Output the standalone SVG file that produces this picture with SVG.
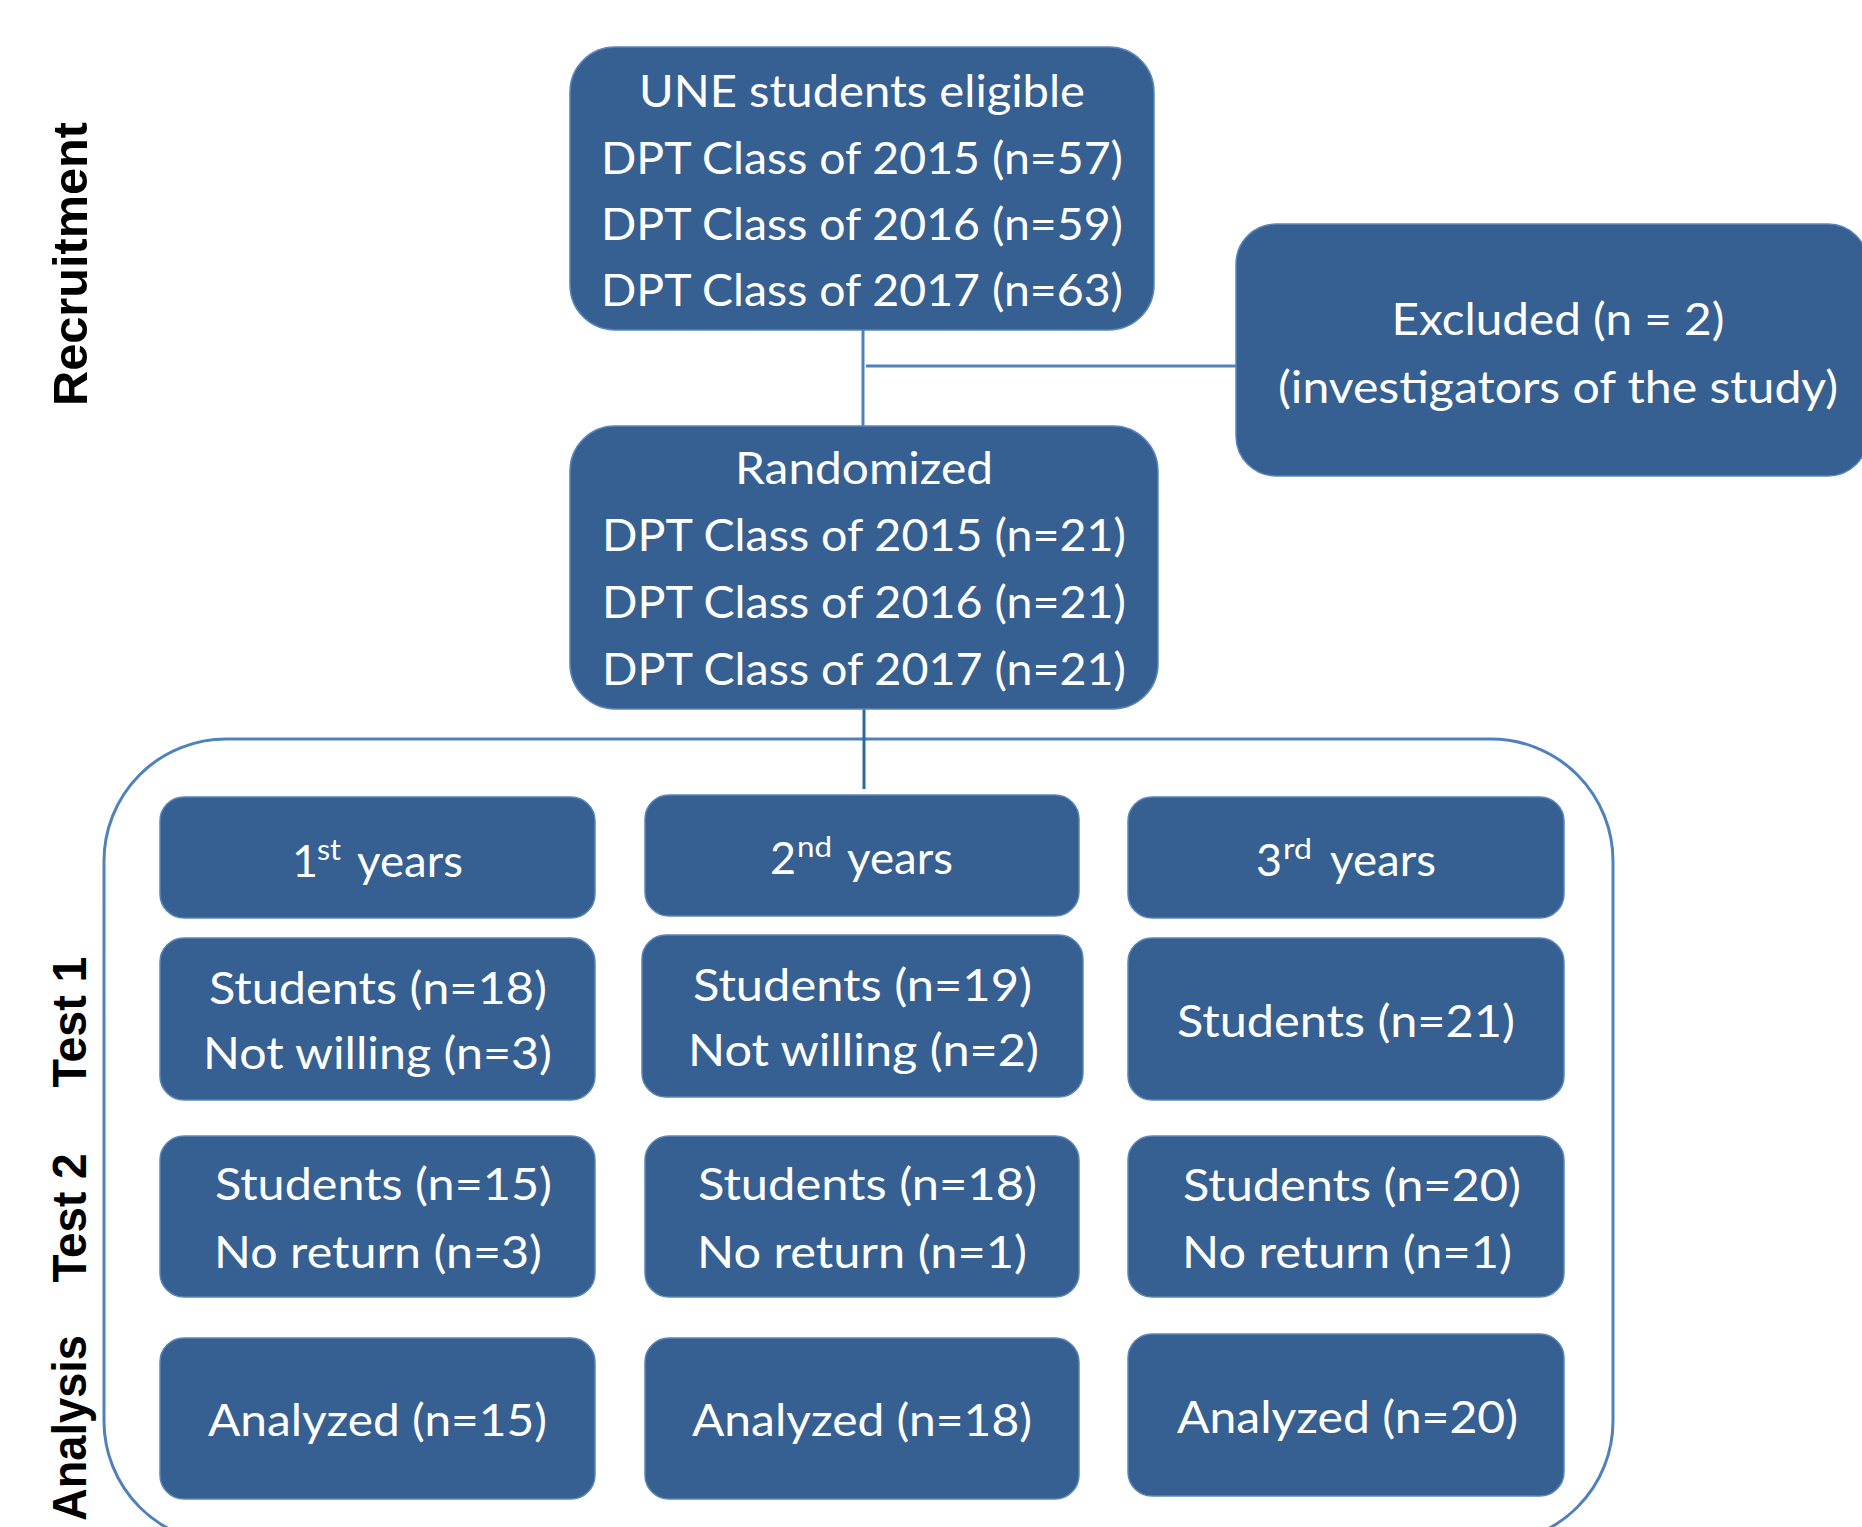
<svg xmlns="http://www.w3.org/2000/svg" width="1862" height="1527" viewBox="0 0 1862 1527">
  <style>
    .box { fill: #376092; stroke: #5a85b8; stroke-width: 1.5; }
    .t { font-family: Lato, "Open Sans", "DejaVu Sans", sans-serif; font-size: 45px; fill: #ffffff; }
    .sup { font-family: Lato, "Open Sans", "DejaVu Sans", sans-serif; font-size: 29px; fill: #ffffff; }
    .side { font-family: "Liberation Sans", Arial, sans-serif; font-weight: bold; font-size: 48px; fill: #000000; }
    .conn { stroke: #4f81bd; stroke-width: 3; fill: none; }
    .conn-dark { stroke: #2a69a6; stroke-width: 3; fill: none; }
    .frame { fill: none; stroke: #4f81bd; stroke-width: 3; }
  </style>

  <rect x="0" y="0" width="1862" height="1527" fill="#ffffff"/>

  <!-- phase labels down the left side -->
  <g id="phase-labels">
    <text class="side" text-anchor="middle" textLength="284" lengthAdjust="spacingAndGlyphs" transform="translate(87,264) rotate(-90)">Recruitment</text>
    <text class="side" text-anchor="middle" textLength="131" lengthAdjust="spacingAndGlyphs" transform="translate(86,1022) rotate(-90)">Test 1</text>
    <text class="side" text-anchor="middle" textLength="129" lengthAdjust="spacingAndGlyphs" transform="translate(86,1218) rotate(-90)">Test 2</text>
    <text class="side" text-anchor="middle" textLength="186" lengthAdjust="spacingAndGlyphs" transform="translate(86,1428) rotate(-90)">Analysis</text>
  </g>

  <!-- rounded frame around the three cohorts -->
  <g id="cohort-frame">
    <rect class="frame" x="104" y="739" width="1509" height="804" rx="122" ry="122"/>
  </g>

  <!-- connectors -->
  <g id="connectors">
    <line class="conn" x1="863" y1="323" x2="863" y2="427"/>
    <line class="conn" x1="866" y1="366" x2="1237" y2="366"/>
    <line class="conn-dark" x1="864" y1="709" x2="864" y2="789"/>
  </g>

  <g id="eligible">
    <rect class="box" x="570" y="47" width="584" height="283" rx="45" ry="45"/>
    <text class="t" x="862" y="107" text-anchor="middle" textLength="446" lengthAdjust="spacingAndGlyphs">UNE students eligible</text>
    <text class="t" x="862" y="174" text-anchor="middle" textLength="522" lengthAdjust="spacingAndGlyphs">DPT Class of 2015 (n=57)</text>
    <text class="t" x="862" y="240" text-anchor="middle" textLength="522" lengthAdjust="spacingAndGlyphs">DPT Class of 2016 (n=59)</text>
    <text class="t" x="862" y="306" text-anchor="middle" textLength="522" lengthAdjust="spacingAndGlyphs">DPT Class of 2017 (n=63)</text>
  </g>

  <g id="excluded">
    <rect class="box" x="1236" y="224" width="632" height="252" rx="40" ry="40"/>
    <text class="t" x="1558" y="335" text-anchor="middle" textLength="333" lengthAdjust="spacingAndGlyphs">Excluded (n = 2)</text>
    <text class="t" x="1558" y="403" text-anchor="middle" textLength="560" lengthAdjust="spacingAndGlyphs">(investigators of the study)</text>
  </g>

  <g id="randomized">
    <rect class="box" x="570" y="426" width="588" height="283" rx="45" ry="45"/>
    <text class="t" x="864" y="484" text-anchor="middle" textLength="258" lengthAdjust="spacingAndGlyphs">Randomized</text>
    <text class="t" x="864" y="551" text-anchor="middle" textLength="524" lengthAdjust="spacingAndGlyphs">DPT Class of 2015 (n=21)</text>
    <text class="t" x="864" y="618" text-anchor="middle" textLength="524" lengthAdjust="spacingAndGlyphs">DPT Class of 2016 (n=21)</text>
    <text class="t" x="864" y="685" text-anchor="middle" textLength="524" lengthAdjust="spacingAndGlyphs">DPT Class of 2017 (n=21)</text>
  </g>

  <!-- first-year column -->
  <g id="year1-header">
    <rect class="box" x="160" y="797" width="435" height="121" rx="24" ry="24"/>
    <text class="t" x="292" y="877" textLength="26" lengthAdjust="spacingAndGlyphs">1</text>
    <text class="sup" x="317" y="860" textLength="24" lengthAdjust="spacingAndGlyphs">st</text>
    <text class="t" x="357" y="877" textLength="106" lengthAdjust="spacingAndGlyphs">years</text>
  </g>
  <g id="year1-test1">
    <rect class="box" x="160" y="938" width="435" height="162" rx="24" ry="24"/>
    <text class="t" x="209" y="1004" textLength="338" lengthAdjust="spacingAndGlyphs">Students (n=18)</text>
    <text class="t" x="203" y="1069" textLength="349" lengthAdjust="spacingAndGlyphs">Not willing (n=3)</text>
  </g>
  <g id="year1-test2">
    <rect class="box" x="160" y="1136" width="435" height="161" rx="24" ry="24"/>
    <text class="t" x="215" y="1200" textLength="337" lengthAdjust="spacingAndGlyphs">Students (n=15)</text>
    <text class="t" x="214" y="1268" textLength="328" lengthAdjust="spacingAndGlyphs">No return (n=3)</text>
  </g>
  <g id="year1-analysis">
    <rect class="box" x="160" y="1338" width="435" height="161" rx="24" ry="24"/>
    <text class="t" x="208" y="1436" textLength="339" lengthAdjust="spacingAndGlyphs">Analyzed (n=15)</text>
  </g>

  <!-- second-year column -->
  <g id="year2-header">
    <rect class="box" x="645" y="795" width="434" height="121" rx="24" ry="24"/>
    <text class="t" x="770" y="874" textLength="26" lengthAdjust="spacingAndGlyphs">2</text>
    <text class="sup" x="797" y="857" textLength="35" lengthAdjust="spacingAndGlyphs">nd</text>
    <text class="t" x="847" y="874" textLength="106" lengthAdjust="spacingAndGlyphs">years</text>
  </g>
  <g id="year2-test1">
    <rect class="box" x="642" y="935" width="441" height="162" rx="24" ry="24"/>
    <text class="t" x="693" y="1001" textLength="339" lengthAdjust="spacingAndGlyphs">Students (n=19)</text>
    <text class="t" x="688" y="1066" textLength="351" lengthAdjust="spacingAndGlyphs">Not willing (n=2)</text>
  </g>
  <g id="year2-test2">
    <rect class="box" x="645" y="1136" width="434" height="161" rx="24" ry="24"/>
    <text class="t" x="698" y="1200" textLength="339" lengthAdjust="spacingAndGlyphs">Students (n=18)</text>
    <text class="t" x="697" y="1268" textLength="330" lengthAdjust="spacingAndGlyphs">No return (n=1)</text>
  </g>
  <g id="year2-analysis">
    <rect class="box" x="645" y="1338" width="434" height="161" rx="24" ry="24"/>
    <text class="t" x="692" y="1436" textLength="340" lengthAdjust="spacingAndGlyphs">Analyzed (n=18)</text>
  </g>

  <!-- third-year column -->
  <g id="year3-header">
    <rect class="box" x="1128" y="797" width="436" height="121" rx="24" ry="24"/>
    <text class="t" x="1256" y="876" textLength="26" lengthAdjust="spacingAndGlyphs">3</text>
    <text class="sup" x="1283" y="859" textLength="29" lengthAdjust="spacingAndGlyphs">rd</text>
    <text class="t" x="1330" y="876" textLength="106" lengthAdjust="spacingAndGlyphs">years</text>
  </g>
  <g id="year3-test1">
    <rect class="box" x="1128" y="938" width="436" height="162" rx="24" ry="24"/>
    <text class="t" x="1177" y="1037" textLength="338" lengthAdjust="spacingAndGlyphs">Students (n=21)</text>
  </g>
  <g id="year3-test2">
    <rect class="box" x="1128" y="1136" width="436" height="161" rx="24" ry="24"/>
    <text class="t" x="1183" y="1201" textLength="338" lengthAdjust="spacingAndGlyphs">Students (n=20)</text>
    <text class="t" x="1182" y="1268" textLength="330" lengthAdjust="spacingAndGlyphs">No return (n=1)</text>
  </g>
  <g id="year3-analysis">
    <rect class="box" x="1128" y="1334" width="436" height="162" rx="24" ry="24"/>
    <text class="t" x="1177" y="1433" textLength="341" lengthAdjust="spacingAndGlyphs">Analyzed (n=20)</text>
  </g>
</svg>
